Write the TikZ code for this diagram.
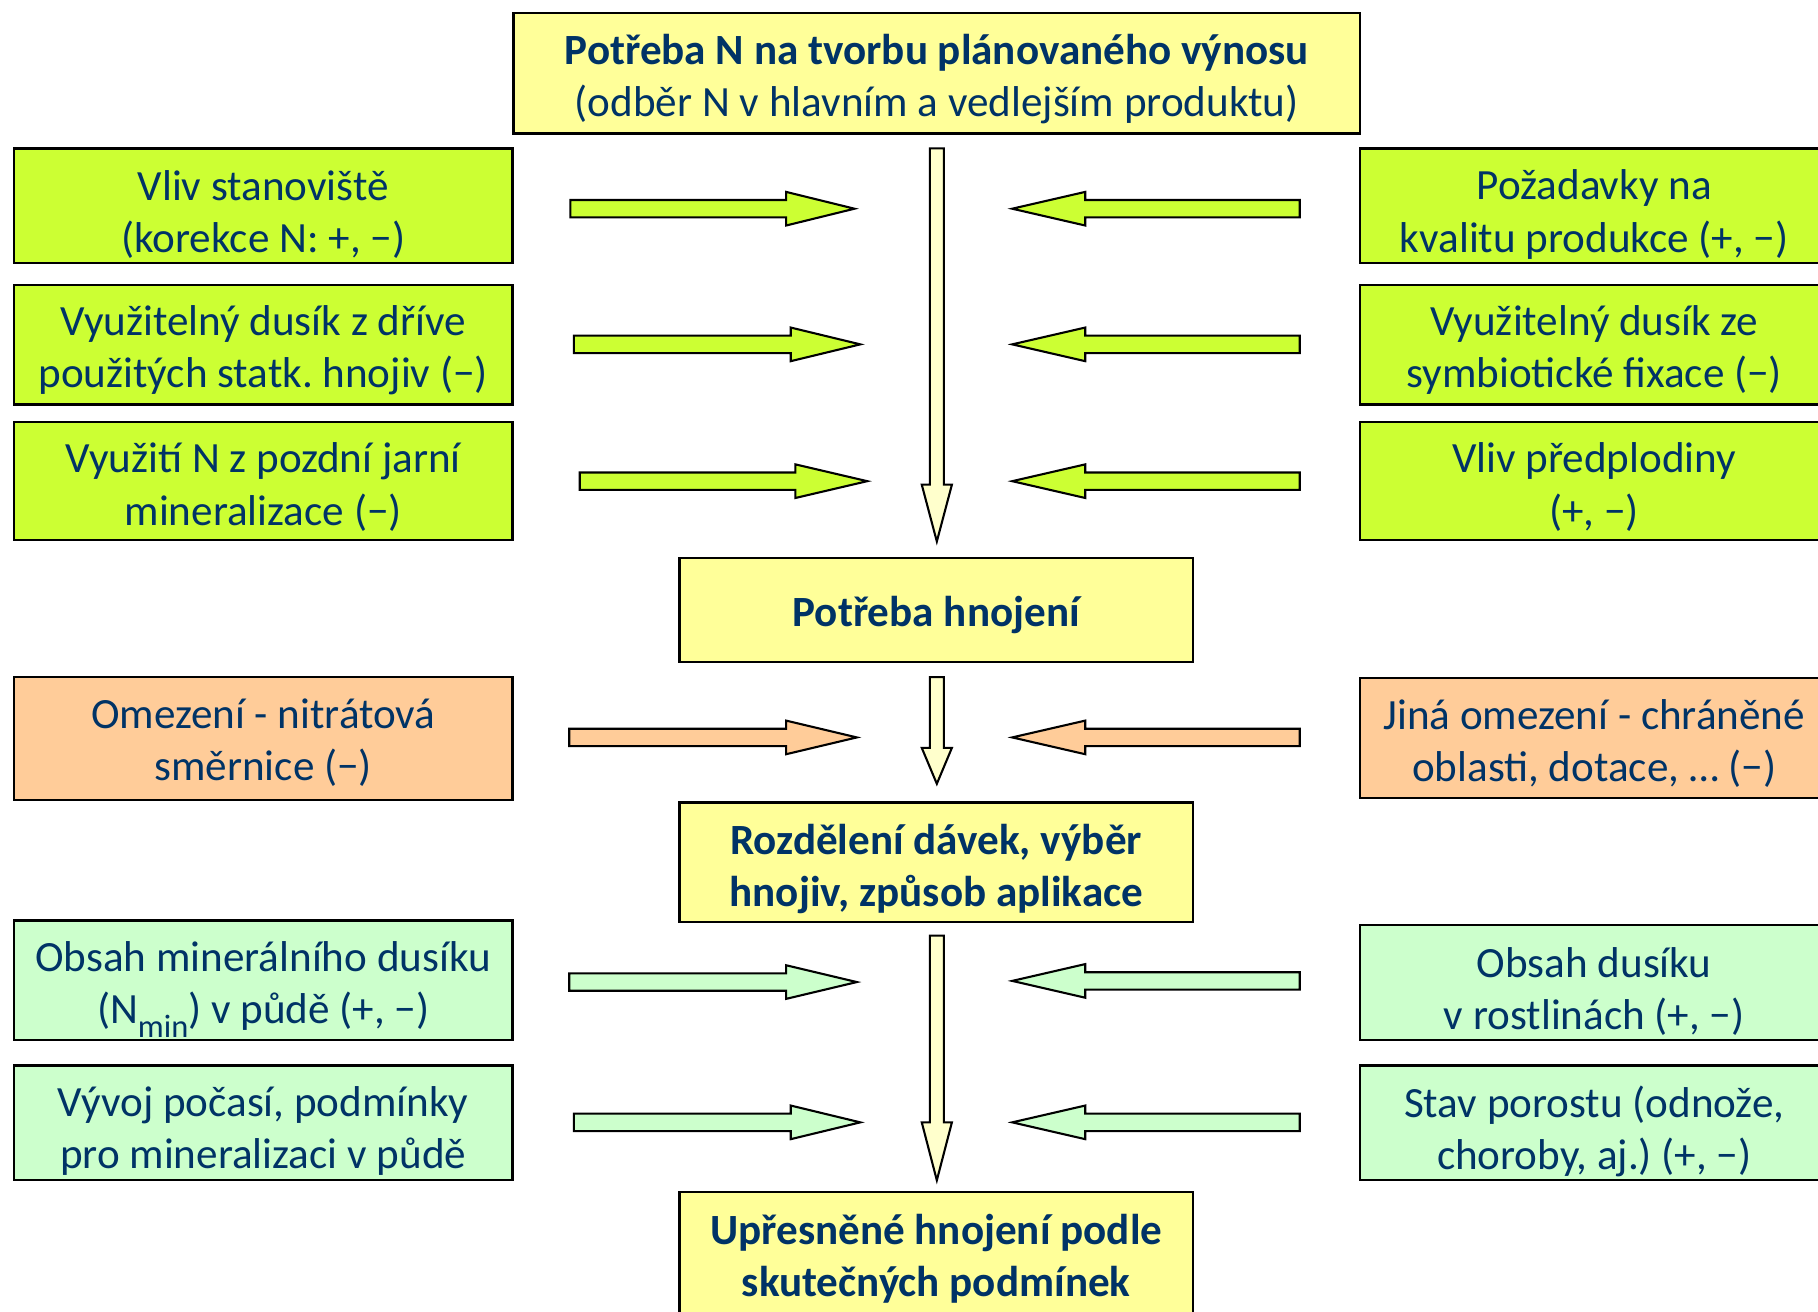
\documentclass[tikz,border=0pt]{standalone}
\usepackage{fontspec}
\setmainfont{Carlito}
\frenchspacing
\definecolor{navy}{RGB}{0,51,102}
\definecolor{yel}{RGB}{255,255,153}
\definecolor{lime}{RGB}{204,255,51}
\definecolor{orng}{RGB}{255,204,153}
\definecolor{mint}{RGB}{204,255,204}
\definecolor{pale}{RGB}{255,255,204}
\newcommand\blockharrow[5]{\draw[#1] (#2,#5-7.5) -- (#3,#5-7.5) -- (#3,#5-14.5) -- (#4,#5) -- (#3,#5+14.5) -- (#3,#5+7.5) -- (#2,#5+7.5) -- cycle;}
\newcommand\blockvarrow[3]{\draw[varrow] (802,#1) -- (814,#1) -- (814,#2) -- (821,#2) -- (808,#3) -- (795,#2) -- (802,#2) -- cycle;}
\begin{document}
\begin{tikzpicture}[x=0.5pt,y=-0.5pt,
  box/.style={draw=black, line width=1pt, rectangle, inner sep=0pt},
  lbox/.style={box, minimum width=215pt},
  rbox/.style={box, minimum width=202pt},
  cbox/.style={box, fill=yel, minimum width=221.5pt},
  txt/.style={inner sep=0pt, align=center, text=navy, font=\fontsize{18.6}{22.5}\selectfont},
  btxt/.style={txt, font=\fontsize{18.6}{22.5}\selectfont\bfseries},
  harrow/.style={draw=black, line width=0.9pt},
  varrow/.style={draw=black, line width=0.9pt, fill=pale}]
\useasboundingbox (0,0) rectangle (1568,1131);
\clip (0,0) rectangle (1568,1131);
% central boxes
\node[box, fill=yel, minimum width=365pt, minimum height=52pt] (top) at (808,63) {};
\node[txt] (topt) at (808,68.5) {\textbf{Potřeba N na tvorbu plánovaného výnosu}\\(odběr N v hlavním a vedlejším produktu)};
\node[cbox, minimum height=45pt] (ph) at (807.5,526) {};
\node[btxt] (pht) at (807.5,530) {Potřeba hnojení};
\node[cbox, minimum height=51.5pt] (rd) at (807.5,743.5) {};
\node[btxt] (rdt) at (807.5,749.5) {Rozdělení dávek, výběr\\hnojiv, způsob aplikace};
\node[cbox, minimum height=56pt] (up) at (807.5,1084) {};
\node[btxt] (upt) at (807.5,1085.5) {Upřesněné hnojení podle\\skutečných podmínek};
% left boxes
\node[lbox, fill=lime, minimum height=49.5pt] (l1) at (227,177.5) {};
\node[txt] (l1t) at (227,185) {Vliv stanoviště\\(korekce N: +, −)};
\node[lbox, fill=lime, minimum height=51.5pt] (l2) at (227,297.5) {};
\node[txt] (l2t) at (227,302) {Využitelný dusík z dříve\\použitých statk. hnojiv (−)};
\node[lbox, fill=lime, minimum height=51pt] (l3) at (227,415) {};
\node[txt] (l3t) at (227,420) {Využití N z pozdní jarní\\mineralizace (−)};
\node[lbox, fill=orng, minimum height=53pt] (lo) at (227,637) {};
\node[txt] (lot) at (227,640.5) {Omezení - nitrátová\\směrnice (−)};
\node[lbox, fill=mint, minimum height=51.5pt] (lg1) at (227,845.5) {};
\node[txt] (lg1t) at (227,853.5) {Obsah minerálního dusíku\\(N{\fontsize{14}{14}\selectfont\raisebox{-6pt}{min}}) v půdě (+, −)};
\node[lbox, fill=mint, minimum height=49.5pt] (lg2) at (227,968.5) {};
\node[txt] (lg2t) at (227,975.5) {Vývoj počasí, podmínky\\pro mineralizaci v půdě};
% right boxes
\node[rbox, fill=lime, minimum height=49.5pt] (r1) at (1375,177.5) {};
\node[txt] (r1t) at (1375,185) {Požadavky na\\kvalitu produkce (+, −)};
\node[rbox, fill=lime, minimum height=51.5pt] (r2) at (1375,297.5) {};
\node[txt] (r2t) at (1375,302) {Využitelný dusík ze\\symbiotické fixace (−)};
\node[rbox, fill=lime, minimum height=51pt] (r3) at (1375,415) {};
\node[txt] (r3t) at (1375,420) {Vliv předplodiny\\(+, −)};
\node[rbox, fill=orng, minimum height=51.5pt] (ro) at (1375,636.5) {};
\node[txt] (rot) at (1375,641) {Jiná omezení - chráněné\\oblasti, dotace, … (−)};
\node[rbox, fill=mint, minimum height=49.5pt] (rg1) at (1375,847.5) {};
\node[txt] (rg1t) at (1375,855) {Obsah dusíku\\v rostlinách (+, −)};
\node[rbox, fill=mint, minimum height=49.5pt] (rg2) at (1375,968.5) {};
\node[txt] (rg2t) at (1375,975.5) {Stav porostu (odnože,\\choroby, aj.) (+, −)};
% vertical arrows
\blockvarrow{128}{418}{467}
\blockvarrow{584}{645}{676}
\blockvarrow{807}{968}{1018}
% horizontal arrows, left side
\blockharrow{harrow, fill=lime}{492}{678}{737}{180}
\blockharrow{harrow, fill=lime}{495}{682}{742}{297}
\blockharrow{harrow, fill=lime}{500}{686}{748}{415}
\blockharrow{harrow, fill=orng}{491}{678}{739}{636}
\blockharrow{harrow, fill=mint}{491}{678}{739}{847}
\blockharrow{harrow, fill=mint}{495}{682}{742}{968}
% horizontal arrows, right side
\blockharrow{harrow, fill=lime}{1121}{936}{873}{180}
\blockharrow{harrow, fill=lime}{1121}{936}{873}{297}
\blockharrow{harrow, fill=lime}{1121}{936}{873}{415}
\blockharrow{harrow, fill=orng}{1121}{936}{873}{636}
\blockharrow{harrow, fill=mint}{1121}{936}{873}{846}
\blockharrow{harrow, fill=mint}{1121}{936}{873}{968}
\end{tikzpicture}
\end{document}
